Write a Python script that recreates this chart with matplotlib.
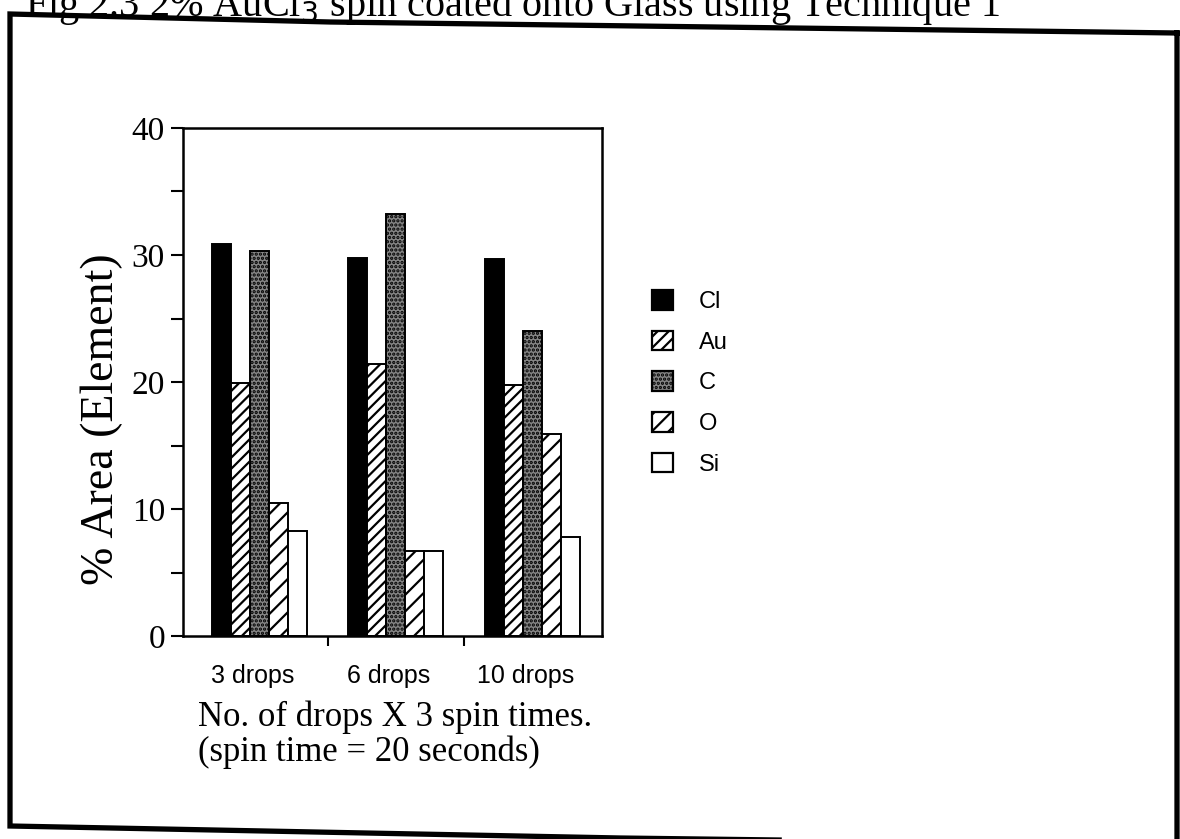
import matplotlib
matplotlib.use("Agg")
import matplotlib.pyplot as plt
import numpy as np
from matplotlib.patches import Patch
from matplotlib.lines import Line2D

# data
groups = ["3 drops", "6 drops", "10 drops"]
elements = ["Cl", "Au", "C", "O", "Si"]
cl = [30.9, 29.8, 29.7]
au = [19.9, 21.4, 19.8]
c = [30.3, 33.2, 24.0]
o = [10.5, 6.7, 15.9]
si = [8.3, 6.7, 7.8]

series = [cl, au, c, o, si]
faces = ["black", "white", "#858585", "white", "white"]
hatches = [None, "///", "....", "//", None]

W, H = 1180, 839
plt.rcParams["hatch.linewidth"] = 1.6

fig = plt.figure(figsize=(W / 100, H / 100), dpi=100)
ax = fig.add_axes([183/W, 1-636/H, 419/W, 508/H])

x = np.arange(len(groups))
w = 0.139
for i, vals in enumerate(series):
    ax.bar(x + (i - 2) * w, vals, width=w, color=faces[i], edgecolor="black",
           linewidth=1.4, hatch=hatches[i], label=elements[i])

ax.set_xlim(-0.56, 2.51)
ax.set_ylim(0, 40)
ax.set_yticks([0, 10, 20, 30, 40])
ax.set_yticks([5, 15, 25, 35], minor=True)
# labels sit a bit left of the bar groups in the scan
ax.set_xticks(x - 0.05)
ax.set_xticks([0.5, 1.5], minor=True)
ax.set_xticklabels(groups, fontfamily="Liberation Sans", fontsize=18)
ax.tick_params(axis="x", which="major", length=0, pad=20)
ax.tick_params(axis="x", which="minor", length=7, width=1.5, direction="out")
ax.tick_params(axis="y", which="both", length=9, width=1.5, direction="out",
               labelsize=24, pad=4)
for lab in ax.get_yticklabels():
    lab.set_fontfamily("Liberation Serif")
for s in ax.spines.values():
    s.set_linewidth(1.8)

fig.text(102/W, 1-419/H, "% Area (Element)", fontfamily="Liberation Serif",
         fontsize=33, rotation=90, ha="center", va="center")
fig.text(198/W, 1-701/H, "No. of drops X 3 spin times.\n(spin time = 20 seconds)",
         fontfamily="Liberation Serif", fontsize=25, va="top", ha="left",
         linespacing=1.05)

handles = [Patch(facecolor=faces[i], edgecolor="black", linewidth=1.6,
                 hatch=hatches[i]) for i in range(5)]
fig.legend(handles, elements, loc="upper left",
           bbox_to_anchor=(652/W, 1-290/H), frameon=False,
           prop={"family": "Liberation Sans", "size": 17},
           handlelength=0.9, handleheight=0.9, labelspacing=0.75,
           handletextpad=1.1, borderpad=0, borderaxespad=0)

# caption along the top edge of the scan, cut off by the crop
fig.text(1000/W, 1-16/H,
         "Fig 2.3 2% AuCl$_3$ spin coated onto Glass using Technique 1",
         fontfamily="Liberation Serif", fontsize=29, ha="right", va="baseline")

# outer frame of the scanned figure (slightly skewed)
fx = [1177, 330, 10, 10, 620, 1177, 1177]
fy = [33, 22, 14, 826, 838, 845, 33]
fig.lines.append(Line2D([v / W for v in fx], [1 - v / H for v in fy],
                        transform=fig.transFigure, color="black",
                        linewidth=3.8, solid_joinstyle="miter"))

fig.savefig("out.png", dpi=100)
